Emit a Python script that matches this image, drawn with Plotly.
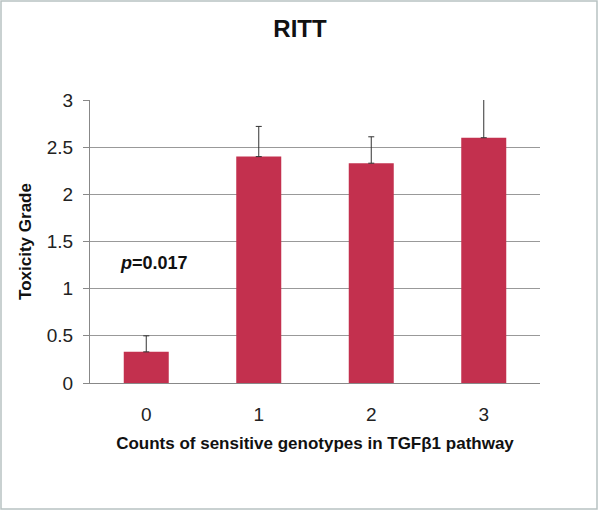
import plotly.graph_objects as go

categories = ["0", "1", "2", "3"]
values = [0.33, 2.40, 2.33, 2.60]
errors_plus = [0.17, 0.32, 0.28, 0.45]
y_ticks = [0, 0.5, 1, 1.5, 2, 2.5, 3]
y_tick_labels = ["0", "0.5", "1", "1.5", "2", "2.5", "3"]

fig = go.Figure()
fig.add_trace(go.Bar(
    x=categories, y=values,
    marker=dict(color="#C3304E", line=dict(width=0)),
    width=0.4,
    error_y=dict(type="data", symmetric=False, array=errors_plus,
                 arrayminus=[0, 0, 0, 0], color="#333333", thickness=1, width=3),
))

fig.add_annotation(x=0.07, y=1.27, xref="x", yref="y",
                   text="<b><i>p</i>=0.017</b>", showarrow=False,
                   font=dict(family="Arial, Liberation Sans", size=18, color="#111111"))

fig.update_layout(
    width=600, height=512,
    margin=dict(l=90, r=60, t=100, b=129),
    paper_bgcolor="white", plot_bgcolor="white",
    showlegend=False,
    title=dict(text="<b>RITT</b>", x=0.5, xanchor="center", y=0.945, yanchor="middle",
               font=dict(family="Arial, Liberation Sans", size=24, color="#111111")),
    font=dict(family="Arial, Liberation Sans", color="#222222"),
    xaxis=dict(
        showline=True, linecolor="#888888", linewidth=1,
        tickfont=dict(size=19, color="#222222"),
        ticklabelstandoff=14,
        title=dict(text="<b>Counts of sensitive genotypes in TGFβ1 pathway</b>",
                   font=dict(size=17, color="#111111"), standoff=13),
        ticks="", showgrid=False,
    ),
    yaxis=dict(
        range=[0, 3], tickvals=y_ticks, ticktext=y_tick_labels,
        showline=True, linecolor="#888888", linewidth=1,
        ticks="outside", ticklen=6, tickcolor="#888888",
        ticklabelstandoff=6,
        showgrid=True, gridcolor="#999999", gridwidth=1,
        tickfont=dict(size=19, color="#222222"),
        title=dict(text="<b>Toxicity Grade</b>", font=dict(size=17, color="#111111"), standoff=10),
        zeroline=False,
    ),
    shapes=[dict(type="rect", xref="paper", yref="paper",
                 x0=(1 - 90) / 450, x1=(597 - 90) / 450,
                 y0=(512 - 129 - 509) / 283, y1=(512 - 129 - 1) / 283,
                 line=dict(color="#B8C2C2", width=1.5), fillcolor="rgba(0,0,0,0)", layer="below")],
)

fig.write_html("out.html", config={"displayModeBar": False},
               post_script="document.body.style.margin='0px';document.body.style.overflow='hidden';")
